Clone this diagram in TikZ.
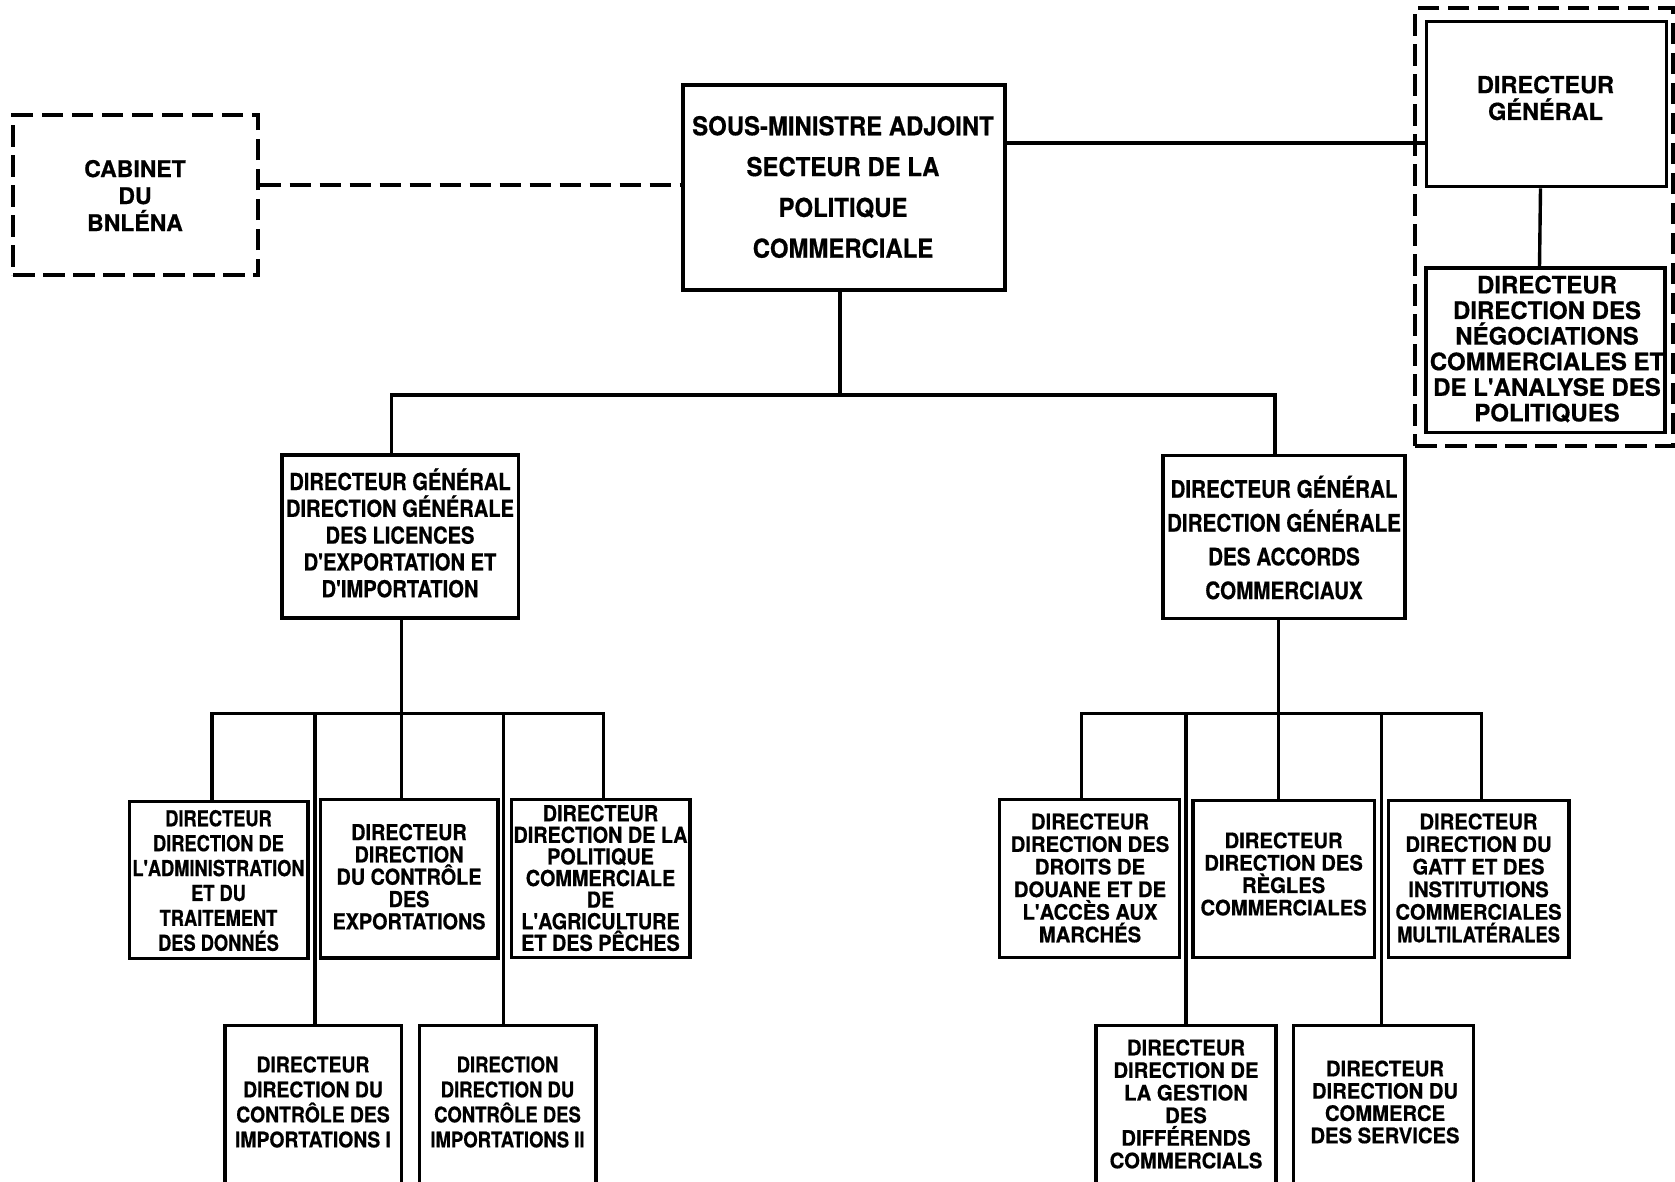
\documentclass[tikz,border=0pt]{standalone}
\usepackage{fontspec}
\newfontfamily\hA[FakeStretch=1.00,FakeBold=0.6]{TeX Gyre Heros}
\newfontfamily\hB[FakeStretch=0.95,FakeBold=0.6]{TeX Gyre Heros}
\newfontfamily\hC[FakeStretch=0.90,FakeBold=0.6]{TeX Gyre Heros}
\newfontfamily\hD[FakeStretch=0.86,FakeBold=0.6]{TeX Gyre Heros}
\newfontfamily\hE[FakeStretch=0.83,FakeBold=0.6]{TeX Gyre Heros}
\newfontfamily\hF[FakeStretch=0.92,FakeBold=0.6]{TeX Gyre Heros}
\newcommand\fnt[3]{#1\bfseries\fontsize{#2}{#3}\selectfont}
\tikzset{
  box/.style={draw, line width=3.4pt, inner sep=0pt, rectangle},
  dbox/.style={box, dash pattern=on 21.5pt off 8.5pt},
  txt/.style={align=center, inner sep=0pt},
  con/.style={line width=3.4pt},
  dcon/.style={con, dash pattern=on 21.5pt off 8.5pt},
}
\begin{document}
\begin{tikzpicture}[x=1pt,y=-1pt]
\useasboundingbox (0,0) rectangle (1675,1181);
\clip (0,0) rectangle (1675,1181);
\fill[white] (0,0) rectangle (1675,1181);
% boxes
\node[dbox, minimum width=245pt, minimum height=160pt] (cab) at (135.5,195) {};
\node[box, minimum width=322pt, minimum height=205pt] (sous) at (844,187.5) {};
\node[dbox, minimum width=258pt, minimum height=438pt] (grp) at (1544,227) {};
\node[box, minimum width=240pt, minimum height=165pt] (dg) at (1546.5,104.2) {};
\node[box, minimum width=239pt, minimum height=164.5pt] (nego) at (1545.5,350.25) {};
\node[box, minimum width=236.5pt, minimum height=163pt] (lic) at (400.25,536.5) {};
\node[box, minimum width=242pt, minimum height=163pt] (acc) at (1284,536.85) {};
\node[box, minimum width=178.4pt, minimum height=156.8pt] (adm) at (218.8,879.9) {};
\node[box, minimum width=177.7pt, minimum height=158.4pt] (exp) at (409.15,878.8) {};
\node[box, minimum width=178.5pt, minimum height=157.9pt] (agr) at (600.75,878.55) {};
\node[box, minimum width=176.7pt, minimum height=174.6pt] (imp1) at (313.35,1112.7) {};
\node[box, minimum width=176.6pt, minimum height=174.6pt] (imp2) at (507.7,1112.7) {};
\node[box, minimum width=180pt, minimum height=157.9pt] (droits) at (1089.4,878.55) {};
\node[box, minimum width=181.6pt, minimum height=157.1pt] (regles) at (1283.6,878.95) {};
\node[box, minimum width=180.5pt, minimum height=157.1pt] (gatt) at (1478.55,878.95) {};
\node[box, minimum width=180pt, minimum height=174.6pt] (diff) at (1185.8,1112.7) {};
\node[box, minimum width=180.4pt, minimum height=174.6pt] (serv) at (1383.5,1112.7) {};
% texts
\node[txt, font=\fnt\hA{23}{27}] (tcab) at (135,195.5) {CABINET\\DU\\BNLÉNA};
\node[txt, font=\fnt\hF{26}{40.8}] (tsous) at (843,187) {SOUS-MINISTRE ADJOINT\\SECTEUR DE LA\\POLITIQUE\\COMMERCIALE};
\node[txt, font=\fnt\hA{23.5}{26.8}] (tdg) at (1545.5,98) {DIRECTEUR\\GÉNÉRAL};
\node[txt, font=\fnt\hA{24}{25.6}] (tnego) at (1547,349) {DIRECTEUR\\DIRECTION DES\\NÉGOCIATIONS\\COMMERCIALES ET\\DE L'ANALYSE DES\\POLITIQUES};
\node[txt, font=\fnt\hD{23.4}{26.8}] (tlic) at (400,533) {DIRECTEUR GÉNÉRAL\\DIRECTION GÉNÉRALE\\DES LICENCES\\D'EXPORTATION ET\\D'IMPORTATION};
\node[txt, font=\fnt\hD{24}{33.8}] (tacc) at (1284,537.5) {DIRECTEUR GÉNÉRAL\\DIRECTION GÉNÉRALE\\DES ACCORDS\\COMMERCIAUX};
\node[txt, font=\fnt\hE{22}{24.9}] (tadm) at (218.5,880.5) {DIRECTEUR\\DIRECTION DE\\L'ADMINISTRATION\\ET DU\\TRAITEMENT\\DES DONNÉS};
\node[txt, font=\fnt\hC{22}{22.3}] (texp) at (409,876.7) {DIRECTEUR\\DIRECTION\\DU CONTRÔLE\\DES\\EXPORTATIONS};
\node[txt, font=\fnt\hC{22}{21.6}] (tagr) at (600.5,878) {DIRECTEUR\\DIRECTION DE LA\\POLITIQUE\\COMMERCIALE\\DE\\L'AGRICULTURE\\ET DES PÊCHES};
\node[txt, font=\fnt\hC{21.5}{25}] (timp1) at (313,1102) {DIRECTEUR\\DIRECTION DU\\CONTRÔLE DES\\IMPORTATIONS I};
\node[txt, font=\fnt\hD{21.5}{25}] (timp2) at (507.5,1102) {DIRECTION\\DIRECTION DU\\CONTRÔLE DES\\IMPORTATIONS II};
\node[txt, font=\fnt\hB{21.3}{22.6}] (tdroits) at (1090,878) {DIRECTEUR\\DIRECTION DES\\DROITS DE\\DOUANE ET DE\\L'ACCÈS AUX\\MARCHÉS};
\node[txt, font=\fnt\hB{21.3}{22.4}] (tregles) at (1283.6,874) {DIRECTEUR\\DIRECTION DES\\RÈGLES\\COMMERCIALES};
\node[txt, font=\fnt\hB{21.3}{22.6}] (tgatt) at (1478.5,878) {DIRECTEUR\\DIRECTION DU\\GATT ET DES\\INSTITUTIONS\\COMMERCIALES\\{\hD MULTILATÉRALES}};
\node[txt, font=\fnt\hB{21.3}{22.6}] (tdiff) at (1186,1104) {DIRECTEUR\\DIRECTION DE\\LA GESTION\\DES\\DIFFÉRENDS\\COMMERCIALS};
\node[txt, font=\fnt\hB{21.3}{22.3}] (tserv) at (1385,1102) {DIRECTEUR\\DIRECTION DU\\COMMERCE\\DES SERVICES};
% connector levels
\coordinate (ydg) at (0,143);
\coordinate (b1) at (0,395);
\coordinate (b2) at (0,713.4);
% connectors
\draw[dcon] ([yshift=10pt]cab.east) -- ([yshift=10pt]cab.east -| sous.west);
\draw[con] (sous.east |- ydg) -- (dg.west |- ydg);
\draw[con] ([xshift=-6pt]dg.south) -- ([xshift=-6pt]nego.north);
\draw[con] ([xshift=-4pt]sous.south) -- ([xshift=-4pt]sous.south |- b1);
\draw[con] ([xshift=-9pt]lic.north) -- ([xshift=-9pt]lic.north |- b1) -- ([xshift=-9pt]acc.north |- b1) -- ([xshift=-9pt]acc.north);
% left group
\draw[con] ([xshift=1.5pt]lic.south) -- ([xshift=1.5pt]lic.south |- b2);
\draw[con] ([xshift=-7pt]adm.north) -- ([xshift=-7pt]adm.north |- b2) -- ([xshift=3pt]agr.north |- b2) -- ([xshift=3pt]agr.north);
\draw[con] ([xshift=-7.5pt]exp.north) -- ([xshift=-7.5pt]exp.north |- b2);
\draw[con] ([xshift=1.6pt]imp1.north) -- ([xshift=1.6pt]imp1.north |- b2);
\draw[con] ([xshift=-4pt]imp2.north) -- ([xshift=-4pt]imp2.north |- b2);
% right group
\draw[con] ([xshift=-5.5pt]acc.south) -- ([xshift=-5.5pt]acc.south |- b2);
\draw[con] ([xshift=-8pt]droits.north) -- ([xshift=-8pt]droits.north |- b2) -- ([xshift=3pt]gatt.north |- b2) -- ([xshift=3pt]gatt.north);
\draw[con] ([xshift=-5pt]regles.north) -- ([xshift=-5pt]regles.north |- b2);
\draw[con] (diff.north) -- (diff.north |- b2);
\draw[con] ([xshift=-2pt]serv.north) -- ([xshift=-2pt]serv.north |- b2);
\end{tikzpicture}
\end{document}
